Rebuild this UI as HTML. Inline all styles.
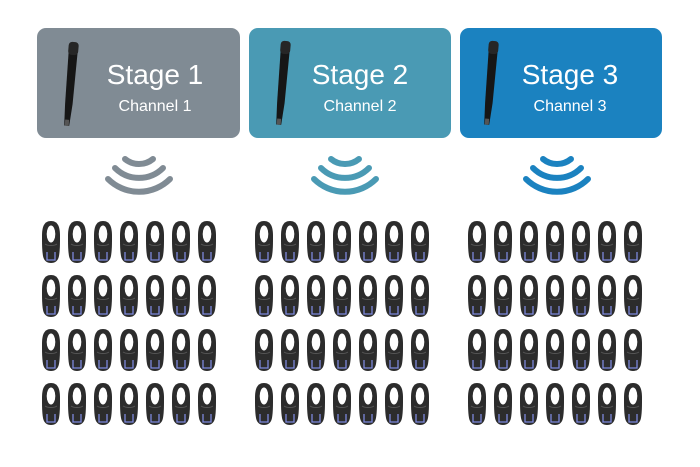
<!DOCTYPE html>
<html><head><meta charset="utf-8"><style>
html,body{margin:0;padding:0;background:#fff;}
svg{display:block}
text{font-family:"Liberation Sans",sans-serif;fill:#fff;text-anchor:middle}
</style></head><body>
<svg width="700" height="467" viewBox="0 0 700 467" xmlns="http://www.w3.org/2000/svg">
<defs>
<g id="mic">
 <g transform="rotate(5)">
 <path d="M-4.5,10 L4.5,10 L4,62 L2.5,84 L-2.5,84 L-3.5,62Z" fill="#161616"/>
 <rect x="-5" y="0" width="10" height="13" rx="3.5" fill="#262626"/>
 <rect x="-2" y="78" width="4" height="6" fill="#555"/>
 </g>
</g>
<g id="hp">
 <path d="M9,1 C16,1 18,7 18,16 C18,24 18,30 17,36 C16,41 13,43 9,43 C5,43 2,41 1,36 C0,30 0,24 0,16 C0,7 2,1 9,1Z" fill="#2c2c2c"/>
 <ellipse cx="9" cy="14" rx="4.3" ry="8.5" fill="#fff"/>
 <path d="M3,24 C6,26 12,26 15,24" stroke="#555" stroke-width="1" fill="none"/>
 <path d="M5,32 L5,40 L13,40 L13,32" fill="none" stroke="#7d88dc" stroke-width="1.3"/>
</g>
<g id="wave">
 <path d="M-14,-2 A22,22 0 0 0 14,-2" fill="none" stroke-width="6" stroke-linecap="round"/>
 <path d="M-24,7 A34,34 0 0 0 24,7" fill="none" stroke-width="6" stroke-linecap="round"/>
 <path d="M-31,18 A44,44 0 0 0 31,18" fill="none" stroke-width="6" stroke-linecap="round"/>
</g>
<g id="grid">
 <use href="#hp" x="0"/><use href="#hp" x="26"/><use href="#hp" x="52"/><use href="#hp" x="78"/><use href="#hp" x="104"/><use href="#hp" x="130"/><use href="#hp" x="156"/>
</g>
<g id="grid4">
 <use href="#grid" y="0"/><use href="#grid" y="54"/><use href="#grid" y="108"/><use href="#grid" y="162"/>
</g>
</defs>

<rect x="37" y="28" width="203" height="110" rx="9" fill="#808b94"/>
<rect x="249" y="28" width="202" height="110" rx="9" fill="#4a9ab4"/>
<rect x="460" y="28" width="202" height="110" rx="9" fill="#1b82c0"/>

<use href="#mic" x="74" y="42"/>
<use href="#mic" x="286" y="41"/>
<use href="#mic" x="494" y="41"/>

<text x="155" y="84" font-size="28">Stage 1</text>
<text x="155" y="111" font-size="16">Channel 1</text>
<text x="360" y="84" font-size="28">Stage 2</text>
<text x="360" y="111" font-size="16">Channel 2</text>
<text x="570" y="84" font-size="28">Stage 3</text>
<text x="570" y="111" font-size="16">Channel 3</text>

<use href="#wave" x="139" y="161" stroke="#808b94"/>
<use href="#wave" x="345" y="161" stroke="#4a9ab4"/>
<use href="#wave" x="557" y="161" stroke="#1b82c0"/>

<use href="#grid4" x="42" y="220"/>
<use href="#grid4" x="255" y="220"/>
<use href="#grid4" x="468" y="220"/>
</svg>
</body></html>
